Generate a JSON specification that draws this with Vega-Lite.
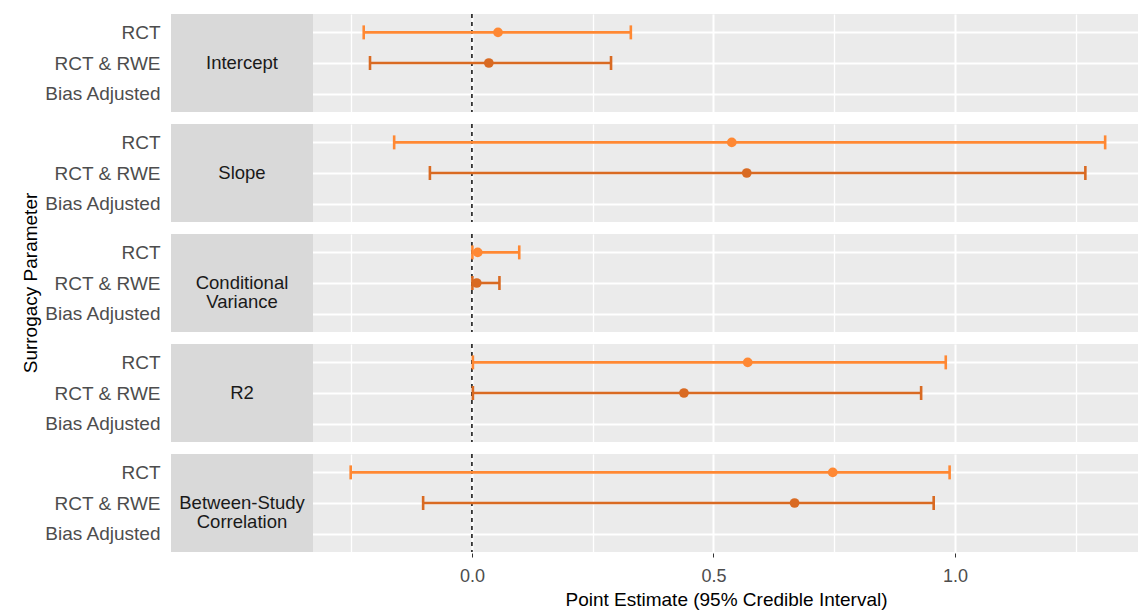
{
  "$schema": "https://vega.github.io/schema/vega-lite/v6.json",
  "background": "white",
  "padding": {"left": 21, "top": 13, "right": 0, "bottom": 4},
  "config": {
    "font": "Liberation Sans",
    "view": {"fill": "#EBEBEB", "stroke": null},
    "axis": {"gridColor": "white", "domain": false}
  },
  "data": {
    "values": [
      {"param": "Intercept", "group": "RCT", "lo": -0.224, "est": 0.054, "hi": 0.329},
      {"param": "Intercept", "group": "RCT & RWE", "lo": -0.211, "est": 0.035, "hi": 0.288},
      {"param": "Slope", "group": "RCT", "lo": -0.161, "est": 0.538, "hi": 1.311},
      {"param": "Slope", "group": "RCT & RWE", "lo": -0.087, "est": 0.569, "hi": 1.27},
      {"param": "Conditional Variance", "group": "RCT", "lo": 0.001, "est": 0.012, "hi": 0.098},
      {"param": "Conditional Variance", "group": "RCT & RWE", "lo": 0.001, "est": 0.01, "hi": 0.057},
      {"param": "R2", "group": "RCT", "lo": 0.002, "est": 0.571, "hi": 0.981},
      {"param": "R2", "group": "RCT & RWE", "lo": 0.002, "est": 0.439, "hi": 0.93},
      {"param": "Between-Study Correlation", "group": "RCT", "lo": -0.251, "est": 0.747, "hi": 0.989},
      {"param": "Between-Study Correlation", "group": "RCT & RWE", "lo": -0.101, "est": 0.668, "hi": 0.956}
    ]
  },
  "facet": {
    "row": {
      "field": "param",
      "type": "nominal",
      "sort": ["Intercept", "Slope", "Conditional Variance", "R2", "Between-Study Correlation"],
      "header": {
        "title": "Surrogacy Parameter",
        "titleOrient": "left",
        "titleFontSize": 19,
        "titleFontWeight": "normal",
        "titleColor": "black",
        "titlePadding": -8,
        "labels": false
      }
    }
  },
  "spacing": 10,
  "spec": {
    "width": 967,
    "height": 98,
    "encoding": {
      "y": {
        "field": "group",
        "type": "nominal",
        "scale": {"type": "point", "domain": ["RCT", "RCT & RWE", "Bias Adjusted"], "padding": 0.6},
        "axis": {
          "title": null,
          "labelFontSize": 19,
          "labelColor": "#4D4D4D",
          "labelPadding": 11,
          "ticks": false,
          "grid": true,
          "gridWidth": 2
        }
      }
    },
    "layer": [
      {
        "transform": [{"filter": "datum.group === 'RCT'"}],
        "mark": {"type": "rect", "color": "#D9D9D9"},
        "encoding": {
          "x": {
            "datum": -0.623,
            "type": "quantitative",
            "scale": {"domain": [-0.623, 1.379], "nice": false, "zero": false},
            "axis": {
              "title": "Point Estimate (95% Credible Interval)",
              "titleFontSize": 19,
              "titleFontWeight": "normal",
              "titleColor": "black",
              "titlePadding": 5,
              "titleX": 555,
              "values": [-0.25, 0, 0.25, 0.5, 0.75, 1, 1.25],
              "labelExpr": "datum.value % 0.5 === 0 ? format(datum.value, '.1f') : ''",
              "labelFontSize": 18,
              "labelColor": "#4D4D4D",
              "labelPadding": 10,
              "tickSize": 4,
              "tickColor": {"condition": {"test": "datum.value % 0.5 === 0", "value": "#333333"}, "value": "transparent"},
              "grid": true,
              "gridWidth": {"condition": {"test": "datum.value % 0.5 === 0", "value": 2}, "value": 1.3}
            }
          },
          "x2": {"datum": -0.329},
          "y": null
        }
      },
      {
        "transform": [{"filter": "datum.group === 'RCT'"}],
        "mark": {"type": "text", "fontSize": 18.5, "color": "#1A1A1A", "lineBreak": " ", "lineHeight": 19, "align": "center", "baseline": "middle"},
        "encoding": {
          "x": {"datum": -0.476, "type": "quantitative"},
          "y": {"datum": "RCT & RWE"},
          "text": {"field": "param"}
        }
      },
      {
        "transform": [{"filter": "datum.group === 'RCT'"}],
        "mark": {"type": "rule", "color": "#1A1A1A", "strokeWidth": 1.6, "strokeDash": [4, 4]},
        "encoding": {
          "x": {"datum": 0, "type": "quantitative"},
          "y": null
        }
      },
      {
        "mark": {"type": "rule", "strokeWidth": 2.6},
        "encoding": {
          "x": {"field": "lo", "type": "quantitative"},
          "x2": {"field": "hi"},
          "color": {"field": "group", "type": "nominal", "scale": {"domain": ["RCT", "RCT & RWE"], "range": ["#FF8833", "#D96A22"]}, "legend": null}
        }
      },
      {
        "mark": {"type": "tick", "size": 14, "thickness": 2.6, "opacity": 1},
        "encoding": {
          "x": {"field": "lo", "type": "quantitative"},
          "color": {"field": "group", "type": "nominal", "legend": null}
        }
      },
      {
        "mark": {"type": "tick", "size": 14, "thickness": 2.6, "opacity": 1},
        "encoding": {
          "x": {"field": "hi", "type": "quantitative"},
          "color": {"field": "group", "type": "nominal", "legend": null}
        }
      },
      {
        "mark": {"type": "point", "shape": "circle", "filled": true, "opacity": 1, "size": 95},
        "encoding": {
          "x": {"field": "est", "type": "quantitative"},
          "color": {"field": "group", "type": "nominal", "legend": null}
        }
      }
    ]
  }
}
